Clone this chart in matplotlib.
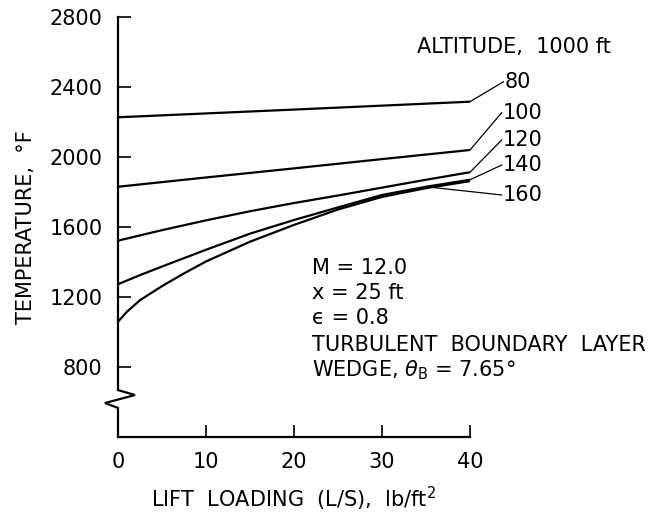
import numpy as np
import matplotlib.pyplot as plt

# Lift loading, lb/ft^2, and wall temperature, deg F, for each altitude (1000 ft)
L_80 = [0, 20, 40]
T_80 = [2227, 2271, 2316]

L_100 = [0, 10, 20, 30, 40]
T_100 = [1830, 1883, 1935, 1988, 2040]

L_120 = [0, 5, 10, 15, 20, 25, 30, 35, 40]
T_120 = [1522, 1582, 1638, 1690, 1737, 1780, 1825, 1870, 1913]

L_140 = [0, 2.5, 5, 7.5, 10, 15, 20, 25, 30, 35, 40]
T_140 = [1273, 1325, 1374, 1422, 1470, 1562, 1640, 1712, 1783, 1830, 1870]

L_160 = [0, 1, 2.5, 5, 7.5, 10, 15, 20, 25, 30, 35, 40]
T_160 = [1059, 1115, 1182, 1262, 1335, 1403, 1516, 1612, 1700, 1772, 1822, 1862]

altitudes = ['80', '100', '120', '140', '160']
curves = [(L_80, T_80), (L_100, T_100), (L_120, T_120), (L_140, T_140), (L_160, T_160)]

# where each leader line touches its curve (lift loading)
leader_at = [40, 40, 40, 40, 35.6]
# label anchor points (lift loading, temperature)
label_pos = [(43.8, 2430), (43.6, 2253), (43.6, 2097), (43.6, 1954), (43.6, 1783)]

FS = 15

fig = plt.figure(figsize=(6.71, 5.15), dpi=100)
ax = fig.add_axes([118/671, 78/515, 352/671, 420/515])
ax.set_xlim(0, 40)
ax.set_ylim(400, 2800)

for L, T in curves:
    ax.plot(L, T, color='black', lw=1.6, solid_capstyle='butt')

# leader lines and altitude labels
for name, (L, T), xl, (xt, yt) in zip(altitudes, curves, leader_at, label_pos):
    yl = np.interp(xl, L, T)
    ax.plot([xl, xt], [yl, yt], color='black', lw=0.9, clip_on=False)
    ax.text(xt + 0.1, yt, name, fontsize=FS, ha='left', va='center')

ax.text(34.0, 2629, 'ALTITUDE,  1000 ft', fontsize=FS, ha='left', va='center')

# flight conditions
notes = ['M = 12.0', 'x = 25 ft', 'ϵ = 0.8', 'TURBULENT  BOUNDARY  LAYER',
         r'WEDGE, $\theta_\mathrm{B}$ = 7.65°']
note_T = [1366, 1223, 1080, 926, 783]
for s, t in zip(notes, note_T):
    ax.text(22.0, t, s, fontsize=FS, ha='left', va='center')

# axes: left spine drawn by hand with a break above the origin
ax.spines['top'].set_visible(False)
ax.spines['right'].set_visible(False)
ax.spines['left'].set_visible(False)
ax.spines['bottom'].set_linewidth(1.6)
ax.plot([0, 0, 1.93, -1.48, 0, 0], [2800, 668, 640, 594, 566, 400],
        color='black', lw=1.6, clip_on=False, solid_joinstyle='miter')

ax.set_yticks([800, 1200, 1600, 2000, 2400, 2800])
ax.set_xticks([0, 10, 20, 30, 40])
ax.tick_params(axis='y', direction='in', length=9.5, width=1.2, pad=11, labelsize=FS)
ax.tick_params(axis='x', direction='in', length=9, width=1.2, pad=11, labelsize=FS)

ax.set_ylabel('TEMPERATURE,  °F', fontsize=FS, labelpad=10)
ax.set_xlabel('LIFT  LOADING  (L/S),  lb/ft$^2$', fontsize=FS, labelpad=9)

plt.savefig('out.png', dpi=100)
